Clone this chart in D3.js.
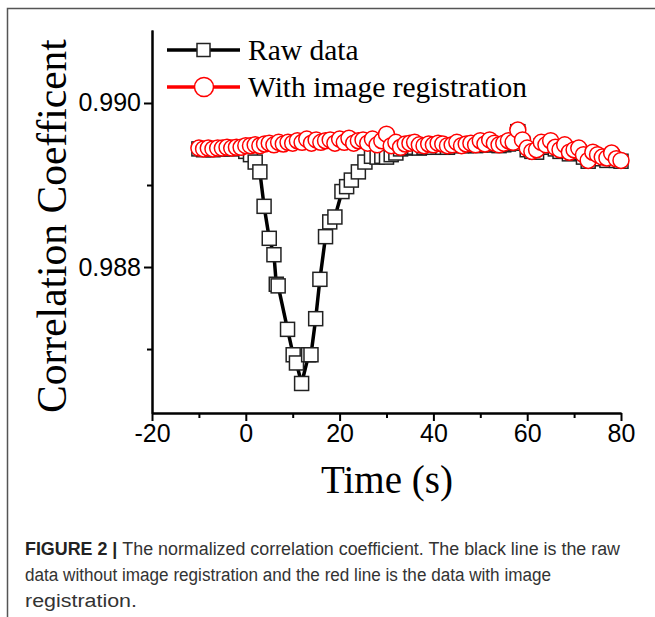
<!DOCTYPE html>
<html>
<head>
<meta charset="utf-8">
<script src="https://cdn.jsdelivr.net/npm/d3@7"></script>
<style>
    body { margin: 0; background: #fff; }
    svg { display: block; }
</style>
</head>
<body>
<div id="chart"></div>
<script>
// values
var rawTime = [-10, -9, -8, -7, -6, -5, -4, -3, -2, -1, 0, 1, 2,
    3.0, 3.9, 5.0, 6.0, 6.5, 6.9, 8.9, 10.1, 10.8, 11.9, 13.4, 13.9, 14.9, 15.8, 17.0, 17.9, 19.0, 20.5, 21.5, 22.5, 24.0, 25.4, 26.8,
    28, 29, 30, 31, 32, 33, 34, 35, 36, 37, 38, 39, 40, 41, 42, 43, 44, 45, 46, 47, 48, 49, 50,
    51, 52, 53, 54, 55, 56, 57, 58, 59, 60, 61, 62, 63, 64, 65, 66, 67, 68, 69, 70,
    71, 72, 73, 74, 75, 76, 77, 78, 79, 80];
var rawValue = [0.98944, 0.98943, 0.98944, 0.98943, 0.98944, 0.98944, 0.98945, 0.98944, 0.98945, 0.98945, 0.98941, 0.98937, 0.98928,
    0.98916, 0.98874, 0.98835, 0.98815, 0.98779, 0.98777, 0.98724, 0.98693, 0.98683, 0.98658, 0.98693, 0.98693, 0.98737, 0.98785, 0.98837, 0.98855, 0.98861, 0.98892, 0.98898, 0.98906, 0.98916, 0.98928, 0.98935,
    0.98934, 0.98935, 0.98934, 0.98937, 0.98939, 0.98944, 0.98945, 0.98946, 0.98946, 0.98945, 0.98946, 0.98948, 0.98946, 0.98948, 0.98946, 0.98946, 0.98948, 0.98949, 0.98948, 0.98948, 0.98949, 0.98948, 0.98949,
    0.98949, 0.98950, 0.98949, 0.98948, 0.98949, 0.98950, 0.98951, 0.98965, 0.98951, 0.98943, 0.98941, 0.98940, 0.98948, 0.98946, 0.98948, 0.98944, 0.98941, 0.98943, 0.98938, 0.98939,
    0.98940, 0.98934, 0.98929, 0.98935, 0.98933, 0.98932, 0.98930, 0.98934, 0.98930, 0.98929];

var regTime = [-10, -9, -8, -7, -6, -5, -4, -3, -2, -1,
    0, 1, 2, 3, 4, 5, 6, 7, 8, 9,
    10, 11, 12, 13, 14, 15, 16, 17, 18, 19,
    20, 21, 22, 23, 24, 25, 26, 27, 28, 29,
    30, 31, 32, 33, 34, 35, 36, 37, 38, 39,
    40, 41, 42, 43, 44, 45, 46, 47, 48, 49,
    50, 51, 52, 53, 54, 55, 56, 57, 58, 59,
    60, 61, 62, 63, 64, 65, 66, 67, 68, 69,
    70, 71, 72, 73, 74, 75, 76, 77, 78, 79, 80];
var regValue = [0.98945, 0.98944, 0.98945, 0.98944, 0.98945, 0.98945, 0.98946, 0.98945, 0.98946, 0.98946,
    0.98948, 0.98948, 0.98949, 0.98948, 0.98950, 0.98951, 0.98949, 0.98952, 0.98950, 0.98952,
    0.98951, 0.98954, 0.98952, 0.98956, 0.98951, 0.98955, 0.98952, 0.98954, 0.98955, 0.98951,
    0.98956, 0.98952, 0.98957, 0.98951, 0.98954, 0.98955, 0.98951, 0.98956, 0.98949, 0.98954,
    0.98962, 0.98948, 0.98952, 0.98946, 0.98950, 0.98951, 0.98952, 0.98949, 0.98948, 0.98950,
    0.98949, 0.98951, 0.98950, 0.98948, 0.98949, 0.98952, 0.98948, 0.98950, 0.98951, 0.98949,
    0.98954, 0.98950, 0.98955, 0.98951, 0.98949, 0.98951, 0.98954, 0.98952, 0.98967, 0.98955,
    0.98945, 0.98941, 0.98943, 0.98952, 0.98949, 0.98954, 0.98946, 0.98943, 0.98949, 0.98940,
    0.98943, 0.98945, 0.98937, 0.98930, 0.98940, 0.98937, 0.98934, 0.98933, 0.98939, 0.98932, 0.98930];

var xMajor = [-20, 0, 20, 40, 60, 80];
var xMinor = [-10, 10, 30, 50, 70];
var yMajor = [0.988, 0.990];
var yMinor = [0.987, 0.989];

var seriesNames = ["Raw data", "With image registration"];
var xTitle = "Time (s)";
var yTitle = "Correlation Coefficent";
var captionLines = [
    "The normalized correlation coefficient. The black line is the raw",
    "data without image registration and the red line is the data with image",
    "registration."
];

var width = 655, height = 617;

var svg = d3.select("#chart").append("svg")
    .attr("width", width)
    .attr("height", height);

// gray frame (top and left)
svg.append("path")
    .attr("d", "M7.5,617 V8.5 H655")
    .attr("fill", "none")
    .attr("stroke", "#555")
    .attr("stroke-width", 1.5);

var x = d3.scaleLinear().domain([-20, 80]).range([152, 621]);
var y = d3.scaleLinear().domain([0.98622, 0.99089]).range([413, 30]);

var serif = "'Liberation Serif', 'Times New Roman', serif";
var sans = "'Liberation Sans', Arial, sans-serif";

// axes
svg.append("g")
    .attr("transform", "translate(0,413)")
    .call(d3.axisBottom(x).tickValues(xMajor).tickSize(8).tickSizeOuter(0).tickPadding(3).tickFormat(d => String(d)));
svg.append("g")
    .attr("transform", "translate(0,413)")
    .call(d3.axisBottom(x).tickValues(xMinor).tickSize(5).tickSizeOuter(0).tickFormat(""));

svg.append("g")
    .attr("transform", "translate(152,0)")
    .call(d3.axisLeft(y).tickValues(yMajor).tickSize(8).tickSizeOuter(0).tickPadding(3).tickFormat(d3.format(".3f")));
svg.append("g")
    .attr("transform", "translate(152,0)")
    .call(d3.axisLeft(y).tickValues(yMinor).tickSize(5).tickSizeOuter(0).tickFormat(""));

svg.selectAll(".domain, .tick line")
    .attr("stroke", "#000")
    .attr("stroke-width", 2);
svg.selectAll(".tick text")
    .attr("font-family", sans)
    .attr("font-size", 25)
    .attr("fill", "#000");

// axis titles
svg.append("text")
    .attr("x", 387)
    .attr("y", 493)
    .attr("text-anchor", "middle")
    .attr("font-family", serif)
    .attr("font-size", 39)
    .text(xTitle);

svg.append("text")
    .attr("transform", "translate(66,226) rotate(-90)")
    .attr("text-anchor", "middle")
    .attr("font-family", serif)
    .attr("font-size", 41.5)
    .text(yTitle);

// raw series
var rawData = rawTime.map((t, i) => ({t: t, v: rawValue[i]}));
var regData = regTime.map((t, i) => ({t: t, v: regValue[i]}));

var line = d3.line().x(d => x(d.t)).y(d => y(d.v));

var plot = svg.append("g");

plot.append("path")
    .datum(rawData)
    .attr("d", line)
    .attr("fill", "none")
    .attr("stroke", "#000")
    .attr("stroke-width", 3.5);

var sq = 14;
plot.selectAll(".raw")
    .data(rawData)
    .enter().append("rect")
    .attr("class", "raw")
    .attr("x", d => x(d.t) - sq / 2)
    .attr("y", d => y(d.v) - sq / 2)
    .attr("width", sq)
    .attr("height", sq)
    .attr("fill", "#fff")
    .attr("stroke", "#222")
    .attr("stroke-width", 1.5);

// registered series
plot.append("path")
    .datum(regData)
    .attr("d", line)
    .attr("fill", "none")
    .attr("stroke", "#f00")
    .attr("stroke-width", 3.5);

plot.selectAll(".reg")
    .data(regData)
    .enter().append("circle")
    .attr("class", "reg")
    .attr("cx", d => x(d.t))
    .attr("cy", d => y(d.v))
    .attr("r", 8)
    .attr("fill", "#fff")
    .attr("stroke", "#f00")
    .attr("stroke-width", 1.5);

// legend
var legend = svg.append("g");
var legY = [50, 87];
legend.append("line")
    .attr("x1", 167).attr("x2", 240).attr("y1", legY[0]).attr("y2", legY[0])
    .attr("stroke", "#000").attr("stroke-width", 3.5);
legend.append("rect")
    .attr("x", 197).attr("y", legY[0] - 6.5).attr("width", 13).attr("height", 13)
    .attr("fill", "#fff").attr("stroke", "#222").attr("stroke-width", 1.5);
legend.append("line")
    .attr("x1", 167).attr("x2", 240).attr("y1", legY[1]).attr("y2", legY[1])
    .attr("stroke", "#f00").attr("stroke-width", 3.5);
legend.append("circle")
    .attr("cx", 204).attr("cy", legY[1]).attr("r", 9.5)
    .attr("fill", "#fff").attr("stroke", "#f00").attr("stroke-width", 1.5);
legend.selectAll(".leg-text")
    .data(seriesNames)
    .enter().append("text")
    .attr("class", "leg-text")
    .attr("x", 248)
    .attr("y", (d, i) => legY[i] + 10)
    .attr("font-family", serif)
    .attr("font-size", 29.5)
    .text(d => d);

// caption
var capWidths = [595, 526, 112];
var caption = svg.append("g")
    .attr("font-family", sans)
    .attr("font-size", 18)
    .attr("fill", "#333");

var first = caption.append("text")
    .attr("x", 25)
    .attr("y", 555)
    .attr("textLength", capWidths[0])
    .attr("lengthAdjust", "spacingAndGlyphs");
first.append("tspan")
    .attr("font-weight", "bold")
    .attr("fill", "#222")
    .text("FIGURE 2 | ");
first.append("tspan")
    .text(captionLines[0]);

caption.selectAll(".cap")
    .data(captionLines.slice(1))
    .enter().append("text")
    .attr("class", "cap")
    .attr("x", 25)
    .attr("y", (d, i) => 581 + i * 26)
    .attr("textLength", (d, i) => capWidths[i + 1])
    .attr("lengthAdjust", "spacingAndGlyphs")
    .text(d => d);
</script>
</body>
</html>
